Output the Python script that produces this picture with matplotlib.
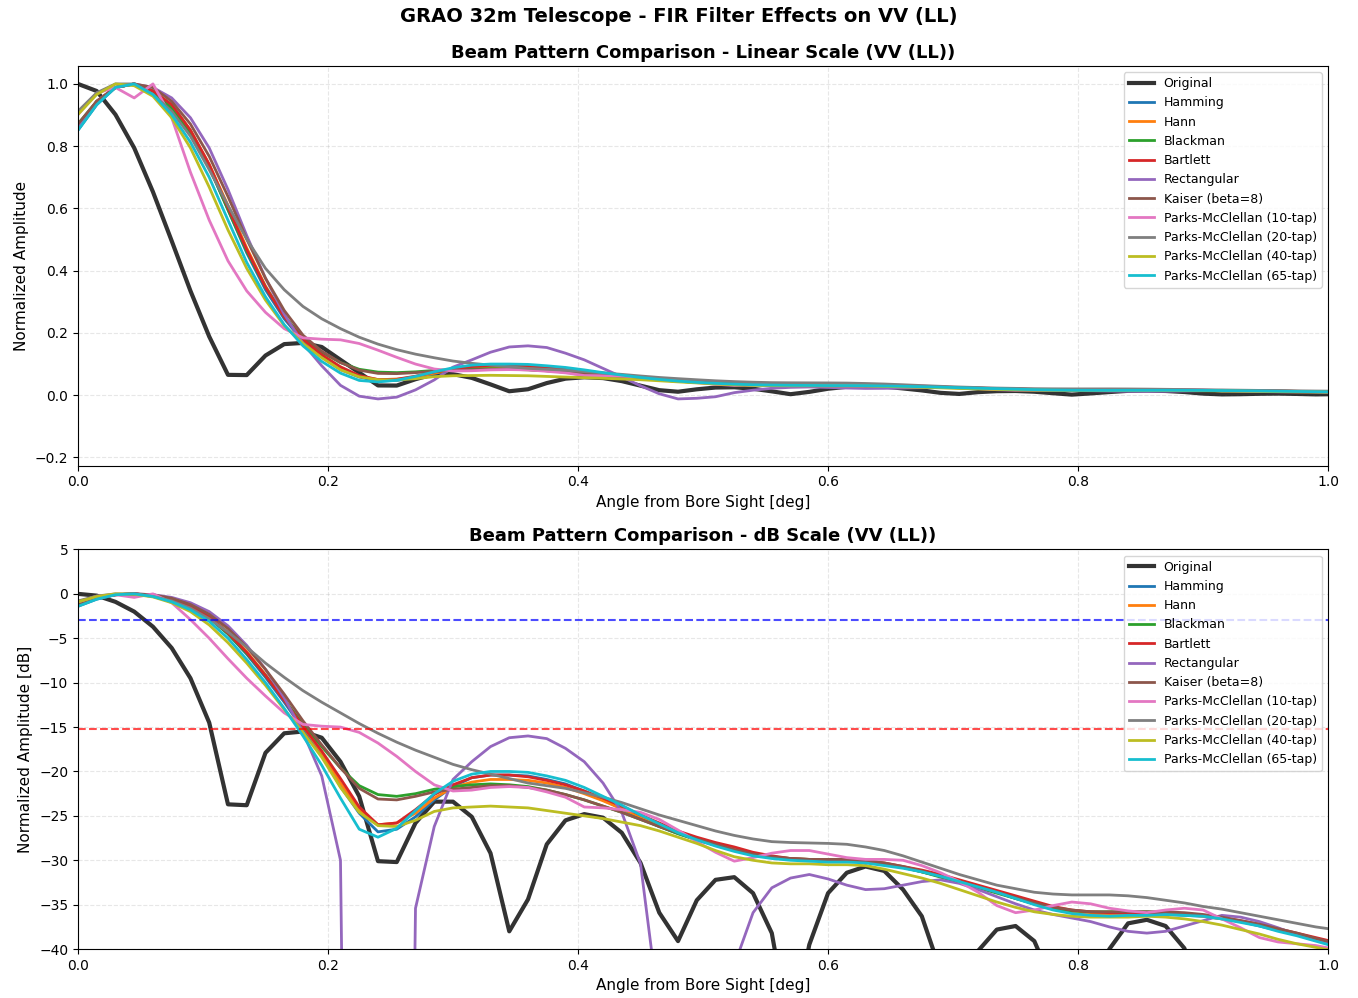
import numpy as np
import matplotlib
matplotlib.use("Agg")
import matplotlib.pyplot as plt

# angle grid of the beam cuts (deg), 0.015 deg steps
angle = np.arange(68) * 0.015

# beam patterns, in dB
original_db = [
    0.0, -0.2, -0.9, -2.0, -3.7, -6.1, -9.5, -14.5, -23.7, -23.8,
    -17.9, -15.7, -15.5, -16.2, -18.9, -22.8, -30.1, -30.2, -25.8, -23.4,
    -23.4, -25.1, -29.2, -38.0, -34.4, -28.2, -25.5, -24.8, -25.2, -26.9,
    -30.3, -35.9, -39.1, -34.5, -32.2, -31.9, -33.7, -38.2, -50.0, -39.5,
    -33.7, -31.4, -30.7, -31.2, -33.3, -36.3, -42.5, -48.0, -40.2, -37.8,
    -37.4, -39.1, -44.0, -55.0, -45.0, -40.0, -37.1, -36.7, -37.4, -39.9,
    -46.0, -52.0, -50.0, -47.0, -46.0, -48.0, -52.0, -50.0]

hamming_db = [
    -1.4, -0.6, -0.1, 0.0, -0.2, -0.7, -1.5, -2.7, -4.5, -6.8,
    -9.4, -12.2, -15.2, -18.2, -21.7, -24.7, -26.8, -26.5, -25.1, -23.2,
    -21.7, -20.7, -20.4, -20.4, -20.5, -20.9, -21.4, -22.2, -23.2, -24.2,
    -25.2, -26.2, -27.0, -27.7, -28.3, -28.8, -29.3, -29.7, -29.9, -30.0,
    -30.0, -30.1, -30.2, -30.5, -30.8, -31.3, -31.8, -32.4, -33.0, -33.6,
    -34.3, -34.9, -35.5, -35.9, -36.1, -36.2, -36.1, -36.1, -36.1, -36.2,
    -36.3, -36.6, -36.9, -37.4, -37.9, -38.4, -39.0, -39.6]

hann_db = [
    -1.3, -0.5, -0.1, 0.0, -0.2, -0.6, -1.4, -2.6, -4.3, -6.5,
    -9.1, -11.9, -14.9, -17.9, -21.3, -24.3, -26.0, -25.8, -24.7, -23.0,
    -21.8, -21.2, -20.9, -20.9, -21.0, -21.3, -21.8, -22.5, -23.3, -24.2,
    -25.1, -26.0, -26.9, -27.6, -28.2, -28.8, -29.3, -29.6, -29.9, -30.0,
    -30.0, -30.0, -30.1, -30.4, -30.8, -31.3, -31.8, -32.4, -33.0, -33.6,
    -34.2, -34.8, -35.4, -35.8, -36.0, -36.1, -36.0, -36.0, -36.0, -36.1,
    -36.3, -36.6, -36.9, -37.3, -37.8, -38.3, -38.9, -39.5]

blackman_db = [
    -1.2, -0.5, -0.1, 0.0, -0.2, -0.7, -1.5, -2.7, -4.5, -6.7,
    -9.2, -11.9, -14.7, -17.2, -19.6, -21.6, -22.6, -22.8, -22.5, -22.0,
    -21.7, -21.5, -21.4, -21.5, -21.7, -22.1, -22.6, -23.2, -23.9, -24.6,
    -25.4, -26.2, -27.0, -27.7, -28.3, -28.9, -29.3, -29.6, -29.8, -29.9,
    -29.9, -30.0, -30.1, -30.4, -30.8, -31.3, -31.9, -32.5, -33.1, -33.7,
    -34.3, -34.9, -35.4, -35.7, -35.8, -35.8, -35.8, -35.8, -35.9, -36.0,
    -36.2, -36.5, -36.9, -37.3, -37.8, -38.3, -38.9, -39.4]

bartlett_db = [
    -1.3, -0.5, -0.1, 0.0, -0.2, -0.6, -1.4, -2.6, -4.4, -6.6,
    -9.2, -12.0, -14.9, -17.7, -20.8, -24.0, -26.0, -25.8, -24.3, -22.6,
    -21.5, -20.7, -20.4, -20.4, -20.6, -21.0, -21.5, -22.2, -23.0, -23.9,
    -24.9, -25.8, -26.7, -27.4, -28.0, -28.5, -29.1, -29.5, -29.8, -29.9,
    -29.9, -30.0, -30.1, -30.3, -30.7, -31.1, -31.6, -32.2, -32.8, -33.4,
    -34.0, -34.6, -35.2, -35.6, -35.8, -35.9, -35.9, -35.9, -35.9, -36.0,
    -36.2, -36.5, -36.8, -37.2, -37.7, -38.2, -38.7, -39.2]

# rectangular window: magnitude in dB plus sign of the amplitude
rect_db = [
    -1.3, -0.5, -0.1, 0.0, -0.1, -0.4, -1.0, -2.0, -3.6, -5.8,
    -8.5, -11.7, -15.6, -20.5, -30.0, -50.0, -38.4, -44.0, -35.4, -26.2,
    -20.9, -18.9, -17.2, -16.2, -16.0, -16.3, -17.4, -18.9, -21.3, -24.6,
    -30.4, -47.0, -38.4, -40.0, -46.0, -41.8, -35.9, -33.1, -32.0, -31.6,
    -32.1, -32.8, -33.3, -33.2, -32.8, -32.4, -32.2, -32.6, -33.3, -34.1,
    -34.9, -35.6, -36.1, -36.5, -36.9, -37.5, -38.0, -38.2, -38.0, -37.4,
    -36.8, -36.2, -36.4, -36.9, -37.6, -38.4, -39.0, -39.4]
rect_sign = [1] * 15 + [-1, -1, -1] + [1] * 14 + [-1, -1, -1] + [1] * 33

kaiser_db = [
    -1.2, -0.5, -0.1, 0.0, -0.1, -0.5, -1.2, -2.3, -3.9, -6.0,
    -8.5, -11.3, -14.3, -17.0, -19.6, -21.9, -23.1, -23.2, -22.8, -22.3,
    -22.0, -21.8, -21.6, -21.6, -21.8, -22.1, -22.6, -23.2, -23.9, -24.6,
    -25.4, -26.2, -26.9, -27.6, -28.2, -28.8, -29.3, -29.6, -29.8, -29.9,
    -29.9, -29.9, -30.0, -30.3, -30.7, -31.2, -31.8, -32.4, -33.0, -33.6,
    -34.2, -34.8, -35.3, -35.6, -35.8, -35.8, -35.8, -35.8, -35.8, -35.9,
    -36.1, -36.4, -36.8, -37.2, -37.7, -38.2, -38.8, -39.3]

pm10_db = [
    -0.9, -0.26, -0.1, -0.4, 0.0, -1.0, -2.9, -5.0, -7.3, -9.5,
    -11.5, -13.4, -14.7, -14.9, -15.0, -15.6, -16.8, -18.3, -20.0, -21.5,
    -22.2, -22.1, -21.8, -21.7, -21.8, -22.3, -22.9, -24.0, -24.1, -24.3,
    -24.6, -25.4, -26.6, -27.9, -29.1, -30.1, -29.7, -29.2, -28.9, -28.9,
    -29.3, -29.7, -29.9, -29.9, -30.0, -30.6, -31.4, -32.4, -33.6, -35.1,
    -35.9, -35.6, -35.1, -34.7, -34.9, -35.4, -35.7, -35.9, -35.6, -35.4,
    -35.6, -36.6, -37.6, -38.7, -39.2, -39.4, -39.6, -40.0]

pm20_db = [
    -0.8, -0.25, 0.0, 0.0, -0.3, -0.8, -1.6, -2.8, -4.3, -6.0,
    -7.8, -9.4, -10.9, -12.2, -13.4, -14.6, -15.7, -16.7, -17.6, -18.4,
    -19.2, -19.8, -20.3, -20.8, -21.3, -21.6, -21.9, -22.4, -22.9, -23.5,
    -24.2, -24.9, -25.5, -26.1, -26.7, -27.2, -27.6, -27.9, -28.0, -28.05,
    -28.1, -28.2, -28.5, -28.9, -29.5, -30.2, -30.9, -31.6, -32.2, -32.8,
    -33.2, -33.6, -33.8, -33.9, -33.9, -33.9, -34.0, -34.2, -34.5, -34.8,
    -35.2, -35.5, -35.9, -36.3, -36.7, -37.1, -37.5, -37.8]

pm40_db = [
    -0.9, -0.3, 0.0, -0.05, -0.35, -1.0, -2.0, -3.5, -5.5, -7.8,
    -10.3, -13.0, -15.6, -18.4, -21.8, -24.6, -26.1, -26.2, -25.5, -24.5,
    -24.1, -24.0, -23.9, -24.0, -24.1, -24.4, -24.7, -25.0, -25.3, -25.7,
    -26.1, -26.7, -27.4, -28.1, -28.9, -29.6, -30.0, -30.3, -30.4, -30.4,
    -30.5, -30.5, -30.6, -31.0, -31.5, -32.0, -32.6, -33.3, -34.0, -34.7,
    -35.3, -35.8, -36.1, -36.3, -36.4, -36.4, -36.4, -36.3, -36.4, -36.6,
    -36.9, -37.3, -37.8, -38.3, -38.9, -39.4, -39.8, -40.2]

pm65_db = [
    -1.4, -0.6, -0.1, 0.0, -0.3, -0.9, -1.8, -3.1, -5.0, -7.4,
    -10.0, -12.9, -16.0, -19.3, -23.0, -26.5, -27.4, -26.4, -24.4, -22.5,
    -21.1, -20.3, -20.0, -20.0, -20.1, -20.5, -21.0, -21.8, -22.8, -23.8,
    -24.9, -25.9, -26.9, -27.7, -28.4, -29.0, -29.5, -29.8, -30.0, -30.1,
    -30.2, -30.2, -30.3, -30.6, -30.9, -31.3, -31.8, -32.4, -33.0, -33.6,
    -34.3, -35.0, -35.6, -36.0, -36.2, -36.3, -36.2, -36.2, -36.1, -36.2,
    -36.3, -36.6, -37.0, -37.4, -38.0, -38.5, -39.1, -39.7]

filter_names = ["Hamming", "Hann", "Blackman", "Bartlett", "Rectangular",
                "Kaiser (beta=8)", "Parks-McClellan (10-tap)",
                "Parks-McClellan (20-tap)", "Parks-McClellan (40-tap)",
                "Parks-McClellan (65-tap)"]
filter_db = [hamming_db, hann_db, blackman_db, bartlett_db, rect_db,
             kaiser_db, pm10_db, pm20_db, pm40_db, pm65_db]

hpbw_level = -3.0
sidelobe_level = -15.25


def to_linear(db, sign=None):
    amp = 10 ** (np.array(db) / 20.0)
    if sign is not None:
        amp = amp * np.array(sign)
    return amp


def to_db(amp):
    return 20 * np.log10(np.clip(amp, 1e-10, None))


orig_amp = to_linear(original_db)
filt_amp = []
for name, db in zip(filter_names, filter_db):
    if name == "Rectangular":
        filt_amp.append(to_linear(db, rect_sign))
    else:
        filt_amp.append(to_linear(db))

fig, (ax1, ax2) = plt.subplots(2, 1, figsize=(13.58, 9.98), dpi=100)
fig.subplots_adjust(left=0.0574, right=0.978, top=0.934, bottom=0.049,
                    hspace=0.21)
fig.suptitle("GRAO 32m Telescope - FIR Filter Effects on VV (LL)",
             fontsize=14, fontweight="bold", y=0.993)

# linear scale
ax1.plot(angle, orig_amp, color="k", alpha=0.8, lw=3, label="Original")
for i, (name, amp) in enumerate(zip(filter_names, filt_amp)):
    ax1.plot(angle, amp, color="C%d" % i, lw=2, label=name)
ax1.set_xlim(0, 1)
ax1.set_ylim(-0.226, 1.058)
ax1.set_xlabel("Angle from Bore Sight [deg]", fontsize=11)
ax1.set_ylabel("Normalized Amplitude", fontsize=11)
ax1.set_title("Beam Pattern Comparison - Linear Scale (VV (LL))",
              fontsize=13, fontweight="bold")
ax1.grid(True, linestyle="--", alpha=0.3)
ax1.legend(loc="upper right", fontsize=9)

# dB scale
ax2.plot(angle, to_db(orig_amp), color="k", alpha=0.8, lw=3, label="Original")
for i, (name, amp) in enumerate(zip(filter_names, filt_amp)):
    ax2.plot(angle, to_db(amp), color="C%d" % i, lw=2, label=name)
ax2.axhline(hpbw_level, color="b", linestyle="--", lw=1.5, alpha=0.7)
ax2.axhline(sidelobe_level, color="r", linestyle="--", lw=1.5, alpha=0.7)
ax2.set_xlim(0, 1)
ax2.set_ylim(-40, 5)
ax2.set_xlabel("Angle from Bore Sight [deg]", fontsize=11)
ax2.set_ylabel("Normalized Amplitude [dB]", fontsize=11)
ax2.set_title("Beam Pattern Comparison - dB Scale (VV (LL))",
              fontsize=13, fontweight="bold")
ax2.grid(True, linestyle="--", alpha=0.3)
ax2.legend(loc="upper right", fontsize=9)

fig.savefig("out.png", dpi=100)
